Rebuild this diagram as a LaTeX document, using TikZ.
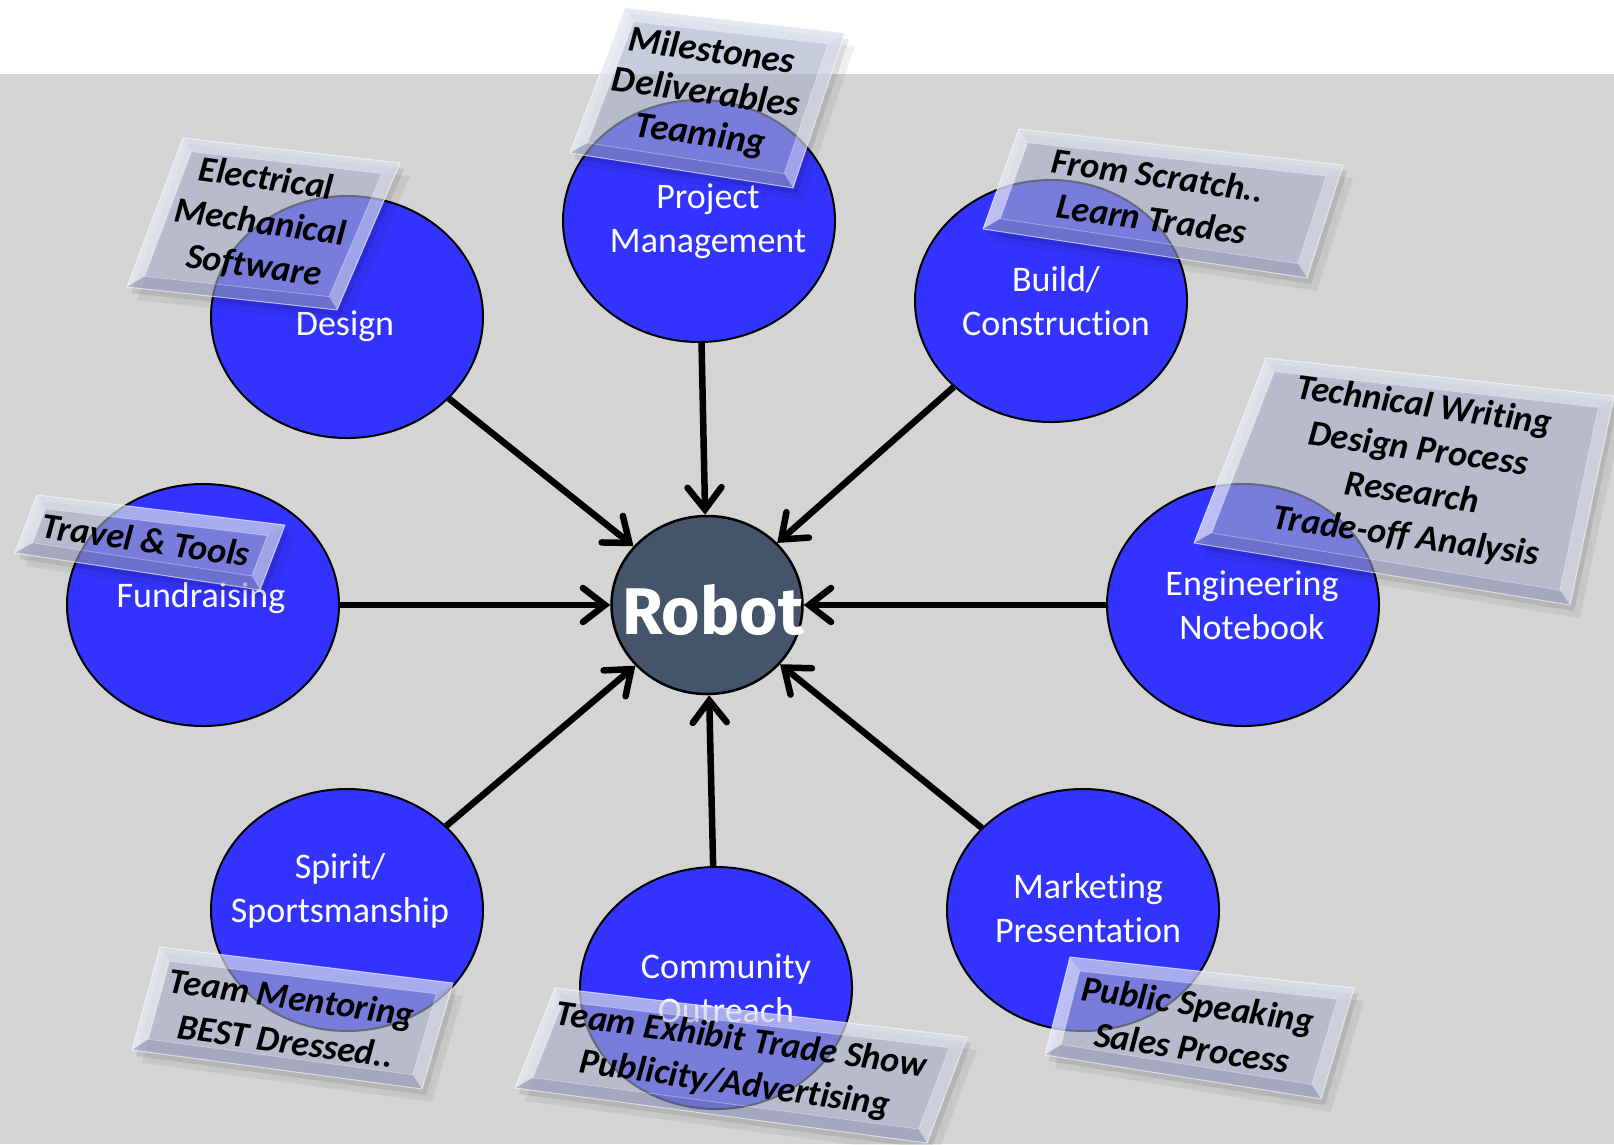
\documentclass[tikz,border=0pt]{standalone}
\usepackage{fontspec}
\setmainfont{Carlito}[Ligatures=NoCommon]
\newfontfamily\robotfont{Fira Sans}
\usetikzlibrary{shapes.geometric,arrows.meta,calc}
\definecolor{bggray}{RGB}{212,212,212}
\definecolor{ellblue}{RGB}{51,51,255}
\definecolor{robotcol}{RGB}{68,84,106}
\definecolor{boxcol}{RGB}{185,193,222}
\newcommand\bevw{13pt}
\newcommand\bevbox[5]{%
  \coordinate (#1A) at (#2); \coordinate (#1B) at (#3);
  \coordinate (#1C) at (#4); \coordinate (#1D) at (#5);
  \coordinate (#1p1) at ($(#1A)!\bevw!(#1B)$); \coordinate (#1p2) at ($(#1A)!\bevw!(#1D)$);
  \coordinate (#1a) at ($(#1p1)+(#1p2)-(#1A)$);
  \coordinate (#1q1) at ($(#1B)!\bevw!(#1A)$); \coordinate (#1q2) at ($(#1B)!\bevw!(#1C)$);
  \coordinate (#1b) at ($(#1q1)+(#1q2)-(#1B)$);
  \coordinate (#1r1) at ($(#1C)!\bevw!(#1B)$); \coordinate (#1r2) at ($(#1C)!\bevw!(#1D)$);
  \coordinate (#1c) at ($(#1r1)+(#1r2)-(#1C)$);
  \coordinate (#1s1) at ($(#1D)!\bevw!(#1A)$); \coordinate (#1s2) at ($(#1D)!\bevw!(#1C)$);
  \coordinate (#1d) at ($(#1s1)+(#1s2)-(#1D)$);
  \fill[black,opacity=.06] ([shift={(10,13)}]#1A) -- ([shift={(10,13)}]#1B) -- ([shift={(10,13)}]#1C) -- ([shift={(10,13)}]#1D) -- cycle;
  \fill[black,opacity=.09] ([shift={(4,6)}]#1A) -- ([shift={(4,6)}]#1B) -- ([shift={(4,6)}]#1C) -- ([shift={(4,6)}]#1D) -- cycle;
  \fill[boxcol,opacity=.55] (#1A) -- (#1B) -- (#1C) -- (#1D) -- cycle;
  \fill[white,opacity=.35] (#1A) -- (#1B) -- (#1b) -- (#1a) -- cycle;
  \fill[white,opacity=.50] (#1D) -- (#1A) -- (#1a) -- (#1d) -- cycle;
  \fill[white,opacity=.30] (#1B) -- (#1C) -- (#1c) -- (#1b) -- cycle;
  \fill[black!70!blue,opacity=.10] (#1C) -- (#1D) -- (#1d) -- (#1c) -- cycle;
  \draw[white,opacity=.6,line width=1pt] (#1A) -- (#1B) -- (#1C) -- (#1D) -- cycle;
  \draw[white,opacity=.35,line width=.8pt] (#1a) -- (#1b) -- (#1c) -- (#1d) -- cycle;
}
\tikzset{
  bub/.style={ellipse, draw=black, line width=2pt, fill=ellblue, minimum width=272pt, minimum height=242pt, inner sep=0pt},
  bublabel/.style={text=white, font=\fontsize{36}{44}\selectfont, align=center, inner sep=0pt},
  arr/.style={draw=black, line width=6.5pt, -{Straight Barb[length=22pt,width=34pt,line cap=round]}},
  boxtext/.style={font=\fontsize{36}{44}\selectfont\bfseries\itshape, align=center, rotate=-8, inner sep=0pt, text=black},
}
\begin{document}
\begin{tikzpicture}[x=1pt,y=-1pt]
\useasboundingbox (0,0) rectangle (1614,1144);
\fill[white] (0,0) rectangle (1614,1144);
\fill[bggray] (0,74) rectangle (1614,1144);
% bubbles
\node[bub] (design) at (347,317) {};
\node[bub] (pm) at (699,221) {};
\node[bub] (build) at (1051,301) {};
\node[bub] (fund) at (203,605) {};
\node[bub] (eng) at (1243,605) {};
\node[bub] (spirit) at (347,910) {};
\node[bub] (comm) at (716,988) {};
\node[bub] (mkt) at (1083,910) {};
\node[ellipse, draw=black, line width=2.5pt, fill=robotcol, minimum width=191pt, minimum height=178pt, inner sep=0pt] (robot) at (707,605) {};
\node[text=white, inner sep=0pt, font=\robotfont\bfseries\fontsize{66}{70}\selectfont] (robot-t) at (713,610) {Robot};
% arrows
\draw[arr] (design) -- (robot);
\draw[arr] (pm) -- (robot);
\draw[arr] (build) -- (robot);
\draw[arr] (fund) -- (robot);
\draw[arr] (eng) -- (robot);
\draw[arr] (spirit) -- (robot);
\draw[arr] (comm) -- (robot);
\draw[arr] (mkt) -- (robot);
% labels
\node[bublabel] (design-t) at (345,326) {Design};
\node[bublabel] (pm-t) at (708,221) {Project\\Management};
\node[bublabel] (build-t) at (1056,301) {Build/\\Construction};
\node[bublabel] (fund-t) at (201,598) {Fundraising};
\node[bublabel] (eng-t) at (1252,605) {Engineering\\Notebook};
\node[bublabel] (spirit-t) at (340,891) {Spirit/\\Sportsmanship};
\node[bublabel] (comm-t) at (726,988) {Community\\Outreach};
\node[bublabel] (mkt-t) at (1088,908) {Marketing\\Presentation};
% bevel boxes
\bevbox{ms}{625,8}{845,33}{793,188}{570,153}
\bevbox{el}{183,138}{400,163}{337,310}{127,287}
\bevbox{fs}{1019,129}{1343,165}{1307,278}{983,229}
\bevbox{tw}{1266,358}{1614,396}{1570,605}{1194,543}
\bevbox{tt}{37,495}{285,525}{260,590}{15,553}
\bevbox{tm}{160,947}{453,983}{422,1089}{132,1050}
\bevbox{te}{555,988}{967,1037}{927,1143}{515,1088}
\bevbox{ps}{1070,957}{1354,988}{1321,1099}{1045,1055}
% box texts
\node[boxtext, font=\fontsize{37}{42}\selectfont\bfseries\itshape] (ms-t) at (706,94) {Milestones\\Deliverables\\Teaming};
\node[boxtext] (el-t) at (260,223) {Electrical\\Mechanical\\Software};
\node[boxtext] (fs-t) at (1155,197) {From Scratch..\\Learn Trades};
\node[boxtext] (tw-t) at (1415,472) {Technical Writing\\Design Process\\Research\\Trade-off Analysis};
\node[boxtext] (tt-t) at (146,540) {Travel \& Tools};
\node[boxtext] (tm-t) at (289,1019) {Team Mentoring\\BEST Dressed..};
\node[boxtext] (te-t) at (738,1063) {Team Exhibit Trade Show\\Publicity/Advertising};
\node[boxtext] (ps-t) at (1195,1026) {Public Speaking\\Sales Process};
\end{tikzpicture}
\end{document}
